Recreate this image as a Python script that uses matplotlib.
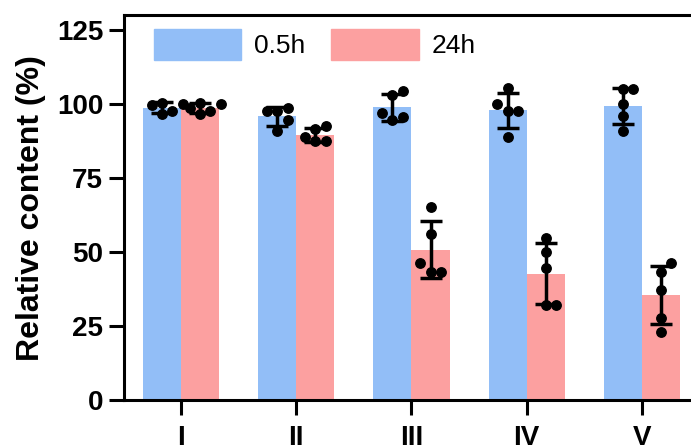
import numpy as np
import matplotlib.pyplot as plt
from matplotlib.patches import Patch

plt.rcParams['font.family'] = ['Liberation Sans', 'DejaVu Sans']

groups = ['I', 'II', 'III', 'IV', 'V']
series = ['0.5h', '24h']

# replicate values (5 per group)
pts_05h = [
    [100.0, 100.5, 97.5, 96.5, 99.5],
    [97.5, 97.5, 98.5, 94.5, 91.0],
    [104.5, 103.0, 97.0, 94.5, 95.5],
    [105.4, 100.0, 97.6, 97.6, 88.8],
    [105.0, 105.0, 100.0, 96.0, 91.0],
]
pts_24h = [
    [100.0, 98.5, 96.5, 97.5, 100.5],
    [92.5, 91.5, 89.0, 87.5, 87.5],
    [65.2, 56.1, 46.3, 43.2, 43.2],
    [54.7, 50.0, 44.6, 32.1, 32.1],
    [46.3, 43.2, 37.2, 27.7, 23.0],
]

colors = ['#92bef7', '#fca0a0']


def swarm_offsets(vals, thr, step):
    # spread points that sit too close to each other sideways
    offs = np.zeros(len(vals))
    placed = []
    for i in np.argsort(vals):
        o = 0.0
        k = 0
        while any(abs(vals[i] - v) < thr and abs(o - p) < step * 0.9 for v, p in placed):
            k += 1
            o = step * ((k + 1) // 2) * (1 if k % 2 else -1)
        offs[i] = o
        placed.append((vals[i], o))
    return offs


fig = plt.figure(figsize=(6.91, 4.47), dpi=100)
ax = fig.add_axes([0.1795, 0.105, 0.832, 0.861])

x = np.arange(len(groups))
w = 0.33
for j, (pts, c) in enumerate([(pts_05h, colors[0]), (pts_24h, colors[1])]):
    pos = x + (j - 0.5) * w
    arr = [np.array(p) for p in pts]
    means = [a.mean() for a in arr]
    sds = [a.std(ddof=1) for a in arr]
    ax.bar(pos, means, width=w, color=c, edgecolor='none', zorder=1)
    ax.errorbar(pos, means, yerr=sds, fmt='none', ecolor='black',
                elinewidth=2.5, capsize=8, capthick=2.5, zorder=3)
    for p, a in zip(pos, arr):
        offs = swarm_offsets(a, 4.0, 0.09)
        ax.plot(p + offs, a, 'o', color='black', ms=6.8, zorder=4)

ax.set_xlim(-0.494, 4.494)
ax.set_ylim(0, 130)
ax.set_yticks([0, 25, 50, 75, 100, 125])
ax.set_xticks(x)
ax.set_xticklabels(groups)
for lab in ax.get_xticklabels() + ax.get_yticklabels():
    lab.set_fontweight('bold')
    lab.set_fontsize(20)
ax.tick_params(axis='both', width=2.2, length=11, pad=4)
ax.tick_params(axis='x', pad=7)
for s in ax.spines.values():
    s.set_linewidth(2.2)
ax.set_ylabel('Relative content (%)', fontsize=23, fontweight='bold', labelpad=8)

handles = [Patch(color=colors[0], label=series[0]), Patch(color=colors[1], label=series[1])]
ax.legend(handles=handles, loc='upper left', ncol=2, frameon=False, fontsize=19,
          handlelength=3.3, handleheight=1.4, columnspacing=1.0, handletextpad=0.5,
          bbox_to_anchor=(0.01, 1.025))

fig.savefig('out.png', dpi=100)
